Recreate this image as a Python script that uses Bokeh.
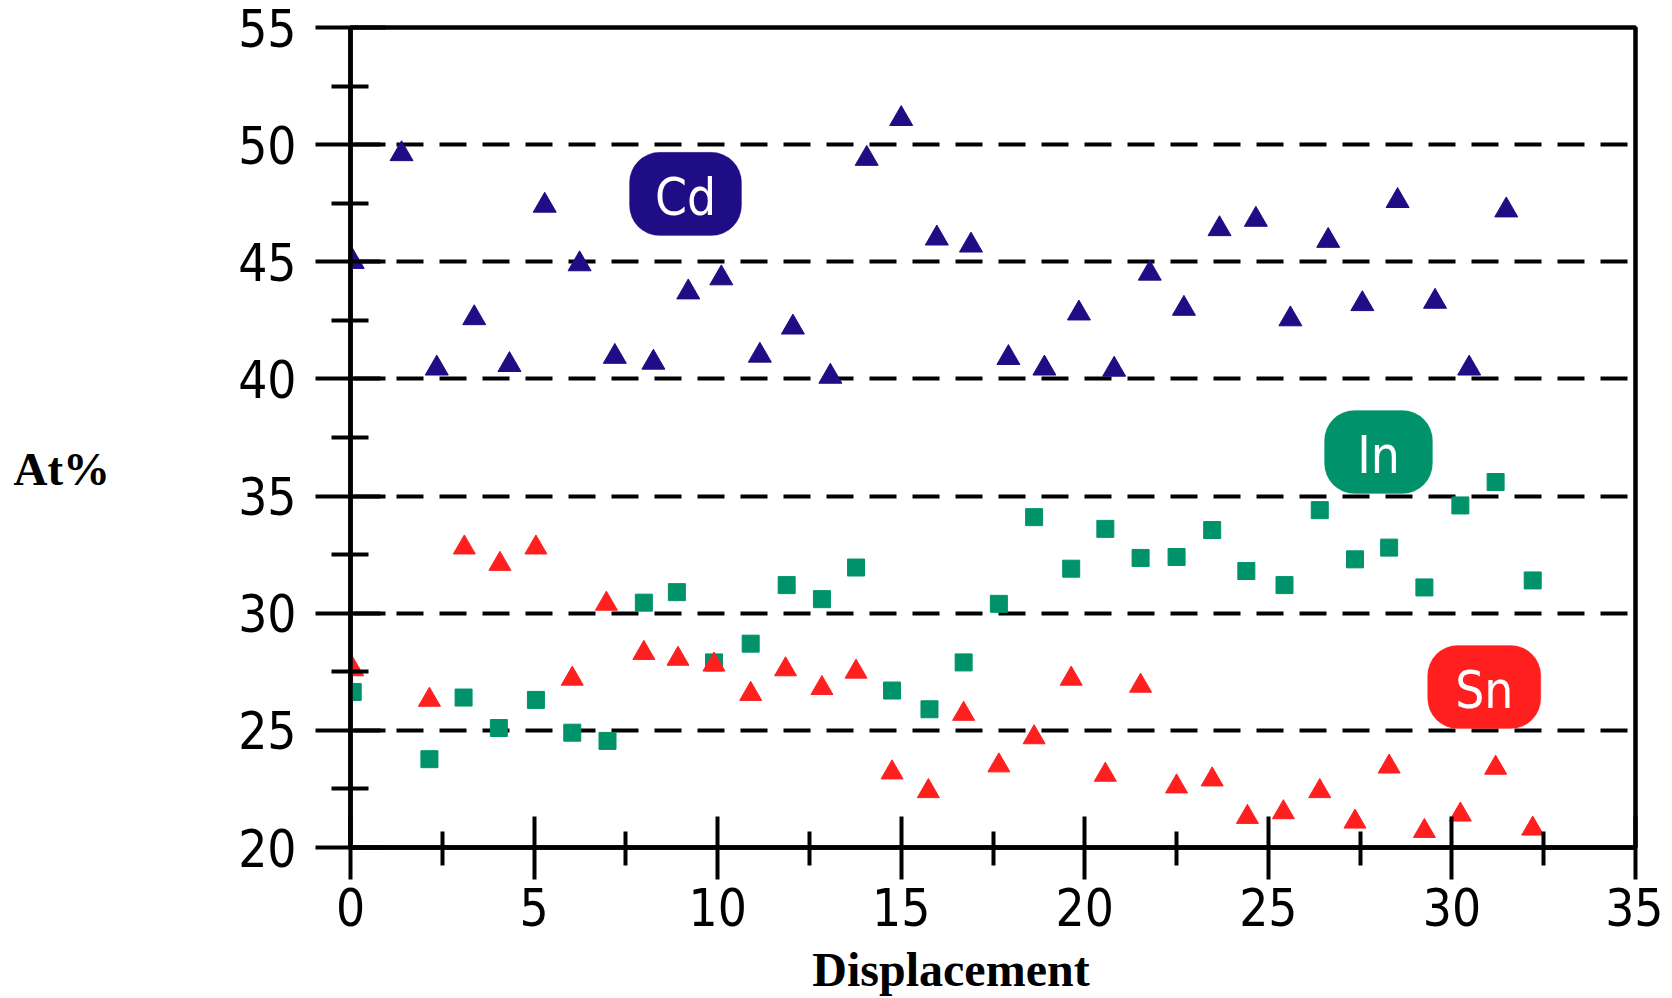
from bokeh.plotting import figure
from bokeh.models import Range1d, BoxAnnotation, Label, FixedTicker
from bokeh.embed import file_html
from bokeh.resources import INLINE

# ---- data ----
cd_x = [0.06, 1.39, 2.35, 3.37, 4.33, 5.29, 6.24, 7.2, 8.25, 9.2, 10.1, 11.15, 12.05,
        13.07, 14.06, 15.0, 15.97, 16.9, 17.92, 18.9, 19.84, 20.8, 21.77, 22.7, 23.67,
        24.66, 25.6, 26.63, 27.56, 28.52, 29.54, 30.47, 31.48]
cd_y = [45.0, 49.6, 40.45, 42.6, 40.6, 47.4, 44.9, 40.95, 40.7, 43.7, 44.3, 41.0, 42.2,
        40.1, 49.4, 51.1, 46.0, 45.7, 40.9, 40.45, 42.8, 40.4, 44.5, 43.0, 46.4,
        46.8, 42.55, 45.9, 43.2, 47.6, 43.3, 40.45, 47.2]

in_x = [0.06, 2.15, 3.08, 4.04, 5.05, 6.04, 7.0, 7.99, 8.89, 9.9, 10.9, 11.88, 12.84,
        13.77, 14.75, 15.77, 16.7, 17.66, 18.62, 19.63, 20.56, 21.52, 22.5, 23.47,
        24.4, 25.44, 26.4, 27.36, 28.29, 29.25, 30.23, 31.19, 32.2]
in_y = [26.64, 23.77, 26.4, 25.1, 26.3, 24.9, 24.55, 30.45, 30.9, 27.9, 28.7, 31.2, 30.6,
        31.95, 26.7, 25.9, 27.9, 30.4, 34.1, 31.9, 33.6, 32.36, 32.4, 33.55,
        31.8, 31.2, 34.4, 32.3, 32.8, 31.1, 34.6, 35.6, 31.4]

sn_x = [0.06, 2.15, 3.1, 4.07, 5.05, 6.04, 6.97, 7.99, 8.92, 9.9, 10.9, 11.85, 12.84,
        13.77, 14.75, 15.74, 16.7, 17.66, 18.62, 19.63, 20.56, 21.52, 22.5, 23.47,
        24.43, 25.41, 26.4, 27.36, 28.29, 29.25, 30.23, 31.19, 32.2]
sn_y = [27.6, 26.3, 32.8, 32.1, 32.8, 27.2, 30.4, 28.3, 28.05, 27.8, 26.55, 27.6, 26.8,
        27.5, 23.2, 22.4, 25.7, 23.5, 24.7, 27.2, 23.1, 26.9, 22.6, 22.9,
        21.3, 21.5, 22.4, 21.1, 23.45, 20.7, 21.4, 23.4, 20.8]

series_names = ["Cd", "In", "Sn"]
x_ticks = [0, 5, 10, 15, 20, 25, 30, 35]
y_ticks = [20, 25, 30, 35, 40, 45, 50, 55]
grid_levels = [25, 30, 35, 40, 45, 50]
x_title = "Displacement"
y_title = "At%"

# ---- styling / placement ----
CD_COL = "#1f0d86"
IN_COL = "#00936b"
SN_COL = "#ff1f1f"
PIX_FONT = "'Liberation Sans Narrow', 'DejaVu Sans Condensed', 'Liberation Sans', sans-serif"
SERIF = "'Liberation Serif', 'Times New Roman', serif"
TICK_FS = "51px"

W, H = 1663, 998
p = figure(width=W, height=H, output_backend="svg", toolbar_location=None,
           x_range=Range1d(0, 35), y_range=Range1d(20, 55),
           min_border_left=350, min_border_top=27, min_border_right=W - 1635,
           min_border_bottom=H - 847)
p.background_fill_color = "white"
p.border_fill_color = "white"
p.outline_line_color = "black"
p.outline_line_width = 4.5

p.xgrid.visible = False
p.ygrid.ticker = FixedTicker(ticks=grid_levels)
p.ygrid.grid_line_color = "black"
p.ygrid.grid_line_width = 4
p.ygrid.grid_line_dash = "27 16"
p.ygrid.grid_line_dash_offset = 40


def style_axis(ax, ticks, tin, tout, min_in, min_out):
    ax.ticker = FixedTicker(ticks=ticks, minor_ticks=[t + 2.5 for t in ticks[:-1]])
    ax.axis_line_width = 4.5
    ax.axis_line_color = "black"
    ax.major_tick_line_width = 4
    ax.minor_tick_line_width = 4
    ax.major_tick_in = tin
    ax.major_tick_out = tout
    ax.minor_tick_in = min_in
    ax.minor_tick_out = min_out
    ax.major_label_text_font = PIX_FONT
    ax.major_label_text_font_size = TICK_FS
    ax.major_label_text_color = "black"


xa = p.xaxis[0]
style_axis(xa, x_ticks, 31, 32, 16, 18)
xa.major_label_standoff = 8
xa.axis_label = x_title + "\u00a0" * 7
xa.axis_label_text_font = SERIF
xa.axis_label_text_font_style = "bold"
xa.axis_label_text_font_size = "48px"
xa.axis_label_text_color = "black"
xa.axis_label_standoff = 14

ya = p.yaxis[0]
style_axis(ya, y_ticks, 35, 35, 18, 19)
ya.major_label_standoff = 19
ya.axis_label = "\n" + y_title
ya.axis_label_orientation = "horizontal"
ya.axis_label_text_font = SERIF
ya.axis_label_text_font_style = "bold"
ya.axis_label_text_font_size = "47px"
ya.axis_label_text_color = "black"
ya.axis_label_standoff = 125

# scatter series (Sn drawn last, on top)
p.scatter(cd_x, cd_y, marker="triangle", size=23, fill_color=CD_COL,
          line_color=CD_COL, line_width=1)
p.scatter(in_x, in_y, marker="square", size=17, fill_color=IN_COL,
          line_color=IN_COL, line_width=1)
p.scatter(sn_x, sn_y, marker="triangle", size=22, fill_color=SN_COL,
          line_color=SN_COL, line_width=1)

# pill labels
pills = [
    (series_names[0], CD_COL, 7.6, 10.65, 46.12, 49.67),
    (series_names[1], IN_COL, 26.53, 29.47, 35.11, 38.65),
    (series_names[2], SN_COL, 29.34, 32.42, 25.08, 28.62),
]
for name, col, l, r, b, t in pills:
    p.add_layout(BoxAnnotation(left=l, right=r, bottom=b, top=t, fill_color=col,
                               fill_alpha=1.0, line_color=col, border_radius=30))
    p.add_layout(Label(x=(l + r) / 2, y=(b + t) / 2 - 0.15, text=name,
                       text_align="center", text_baseline="middle",
                       text_color="white", text_font=PIX_FONT,
                       text_font_size=TICK_FS))

open("out.html", "w").write(file_html(p, INLINE))
